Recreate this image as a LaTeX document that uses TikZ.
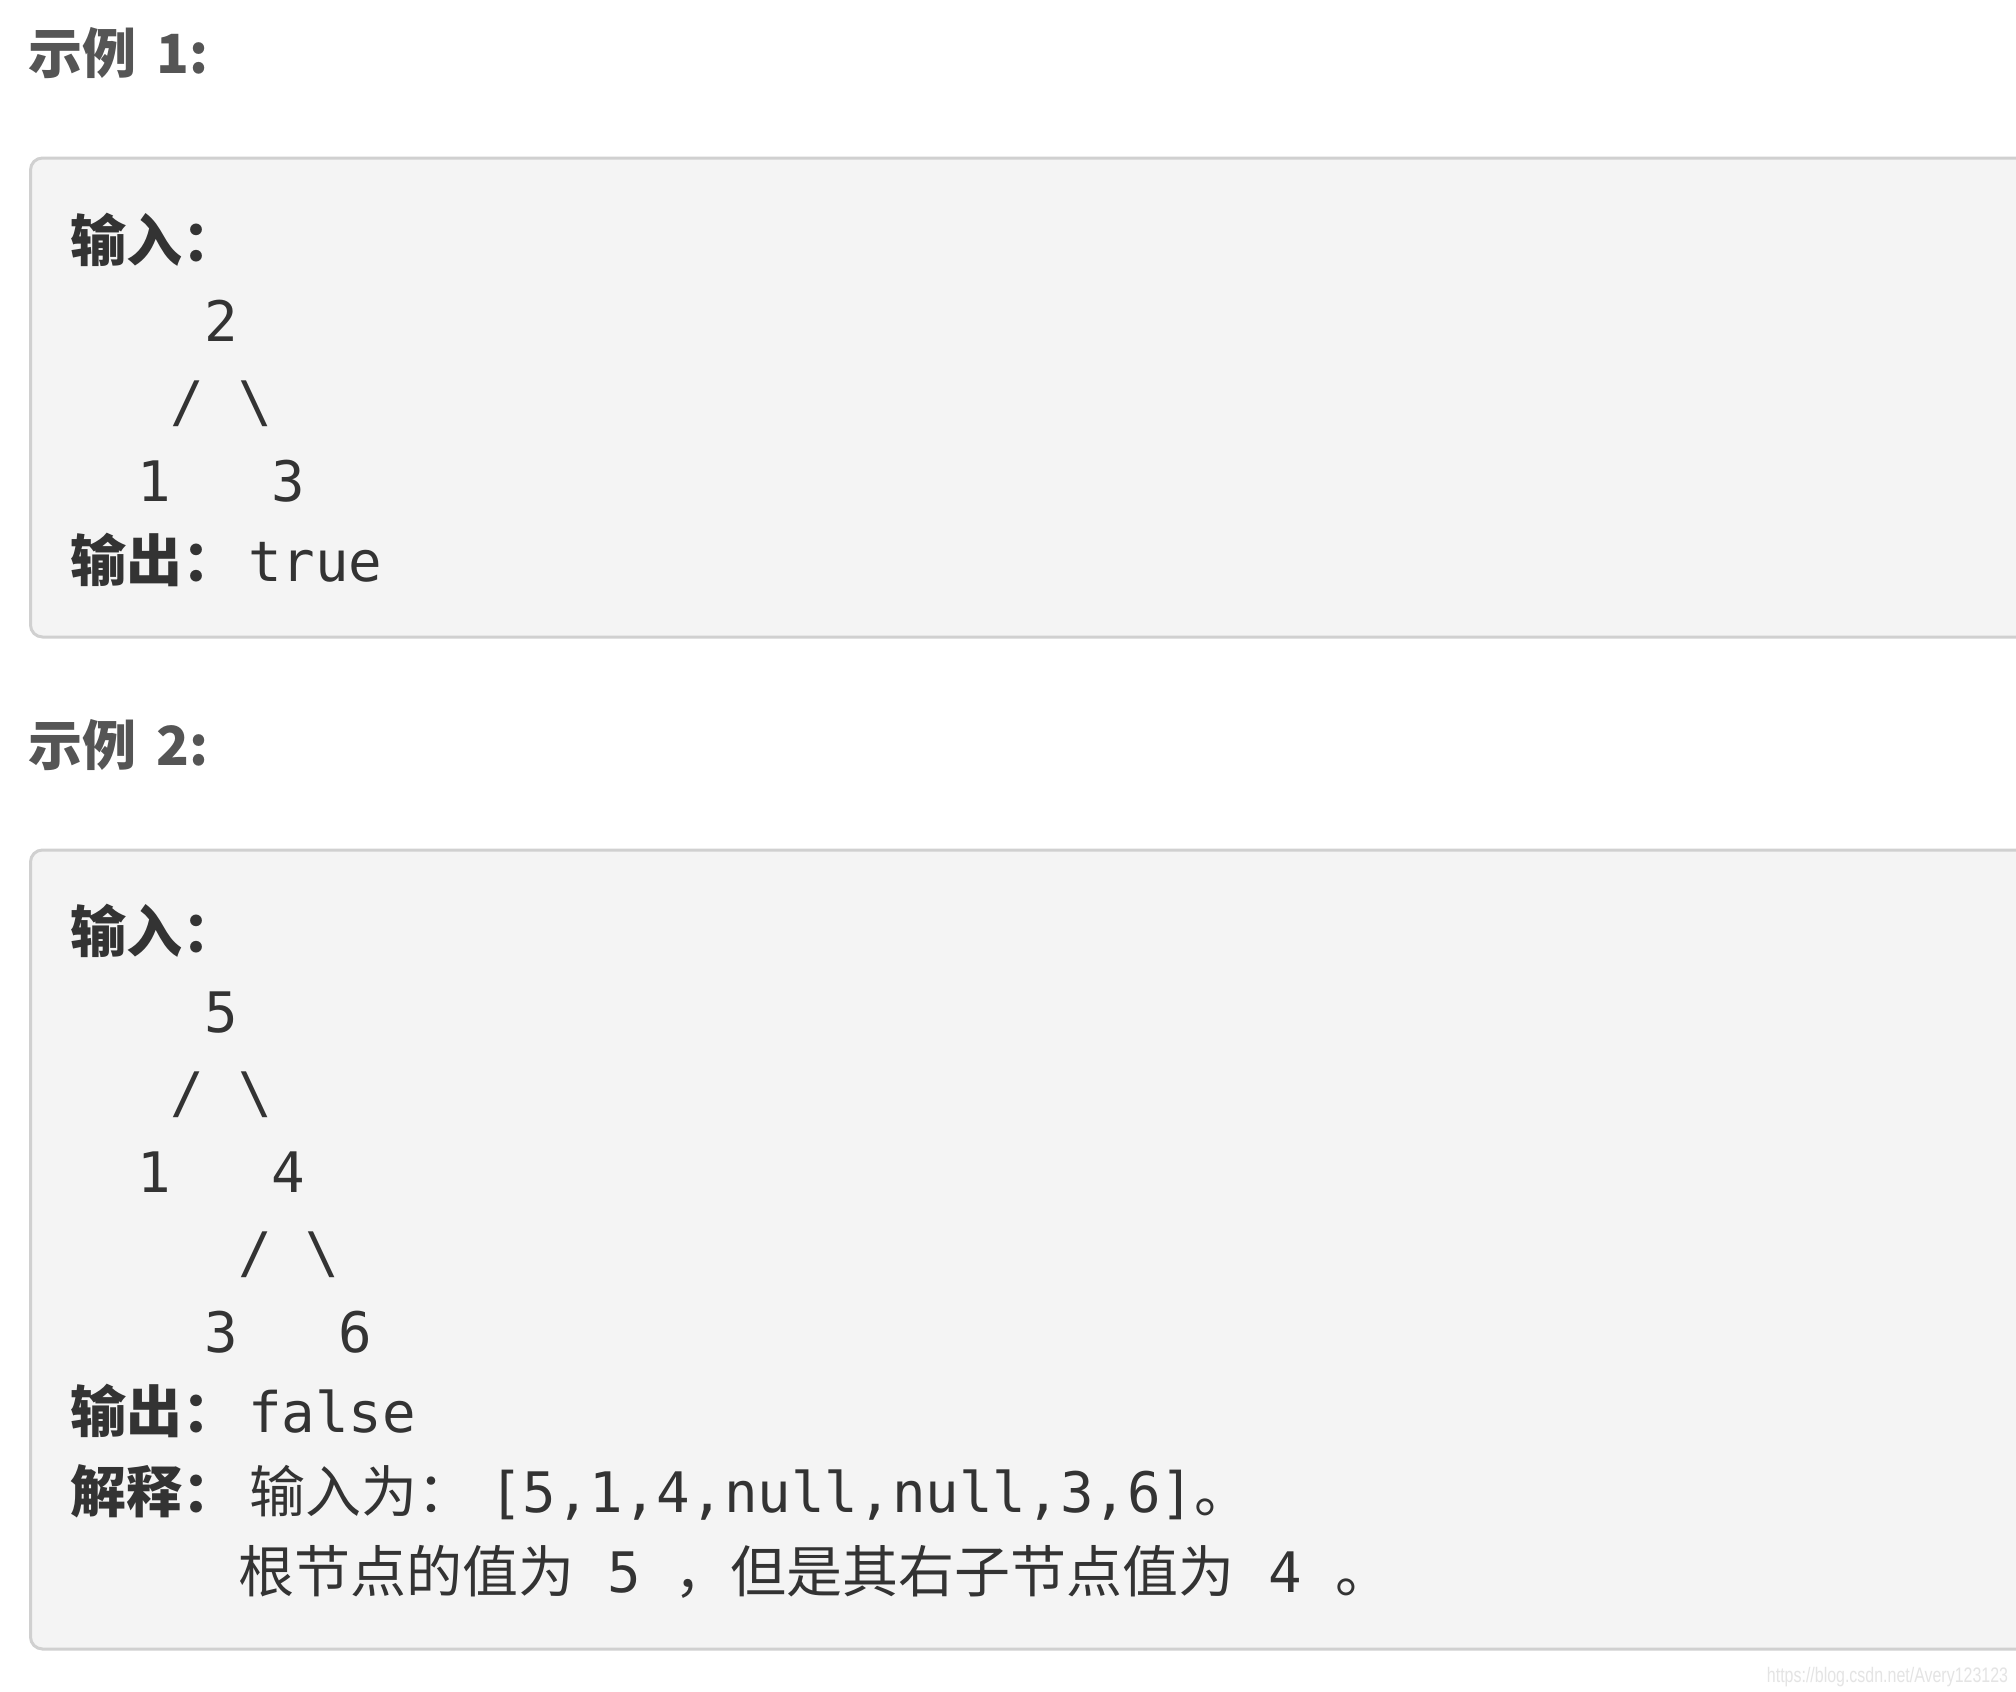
\documentclass[tikz,border=0pt]{standalone}
\usepackage{fontspec}
\usepackage{graphicx}
\newfontfamily\cjk{Noto Sans CJK SC}
\newfontfamily\mono{DejaVu Sans Mono}
\newfontfamily\wm{Liberation Sans}
\definecolor{boxfill}{HTML}{F4F4F4}
\definecolor{boxline}{HTML}{D0D0D0}
\definecolor{txt}{HTML}{333333}
\definecolor{ttl}{HTML}{555555}
\definecolor{wmc}{HTML}{E4E4E4}
\newcommand\cjkfs{\fontsize{56}{56}\selectfont}
\newcommand\monofs{\fontsize{55.8}{56}\selectfont}
\begin{document}
\begin{tikzpicture}[x=1pt,y=1pt,
  txtnode/.style={inner sep=0pt, outer sep=0pt, anchor=base west, text=txt},
  lab/.style={txtnode, font=\cjk\bfseries\cjkfs},
  mo/.style={txtnode, font=\mono\monofs},
  titlenode/.style={inner sep=0pt, outer sep=0pt, anchor=base west, text=ttl, font=\cjk\bfseries\fontsize{54}{54}\selectfont},
  codebox/.style={draw=boxline, fill=boxfill, line width=3pt, rounded corners=12pt}
]
\useasboundingbox (0,0) rectangle (2016,-1692);
\clip (0,0) rectangle (2016,-1692);
\fill[white] (0,0) rectangle (2016,-1692);

% ---------- Example 1 ----------
\node[titlenode] (t1) at (28,-73) {示例\hspace{21pt}1:};
\draw[codebox] (30.5,-158) rectangle (2100,-637);
\node[lab] (in1) at (70,-261) {输入：};
\node[mo] (a2) at (204.4,-341) {2};
\node[mo] (a2l) at (170.8,-421) {/};
\node[mo] (a2r) at (238,-421) {\textbackslash};
\node[mo] (a1) at (137.2,-501) {1};
\node[mo] (a3) at (271.6,-501) {3};
\node[lab] (out1) at (70,-581) {输出：};
\node[mo] (v1) at (248,-581) {true};

% ---------- Example 2 ----------
\node[titlenode] (t2) at (28,-765) {示例\hspace{21pt}2:};
\draw[codebox] (30.5,-850) rectangle (2100,-1649);
\node[lab] (in2) at (70,-952) {输入：};
\node[mo] (b5) at (204.4,-1032) {5};
\node[mo] (b5l) at (170.8,-1112) {/};
\node[mo] (b5r) at (238,-1112) {\textbackslash};
\node[mo] (b1) at (137.2,-1192) {1};
\node[mo] (b4) at (271.6,-1192) {4};
\node[mo] (b4l) at (238,-1272) {/};
\node[mo] (b4r) at (305.2,-1272) {\textbackslash};
\node[mo] (b3) at (204.4,-1352) {3};
\node[mo] (b6) at (338.8,-1352) {6};
\node[lab] (out2) at (70,-1432) {输出：};
\node[mo] (v2) at (248,-1432) {false};
\node[lab] (ex) at (70,-1512) {解释：};
\node[txtnode] (ex1) at (249,-1512) {{\cjk\cjkfs 输入为：}\hspace{16pt}{\mono\monofs [5,1,4,null,null,3,6]}{\cjk\cjkfs 。}};
\node[txtnode] (ex2) at (238,-1592) {{\cjk\cjkfs 根节点的值为}{\mono\monofs\ 5\ }{\cjk\cjkfs ，但是其右子节点值为}{\mono\monofs\ 4\ }{\cjk\cjkfs 。}};

% ---------- watermark ----------
\node[inner sep=0pt, outer sep=0pt, anchor=base east, text=wmc, font=\wm\fontsize{21}{21}\selectfont] (wmk) at (2008,-1682) {\scalebox{0.76}[1]{https://blog.csdn.net/Avery123123}};
\end{tikzpicture}
\end{document}
